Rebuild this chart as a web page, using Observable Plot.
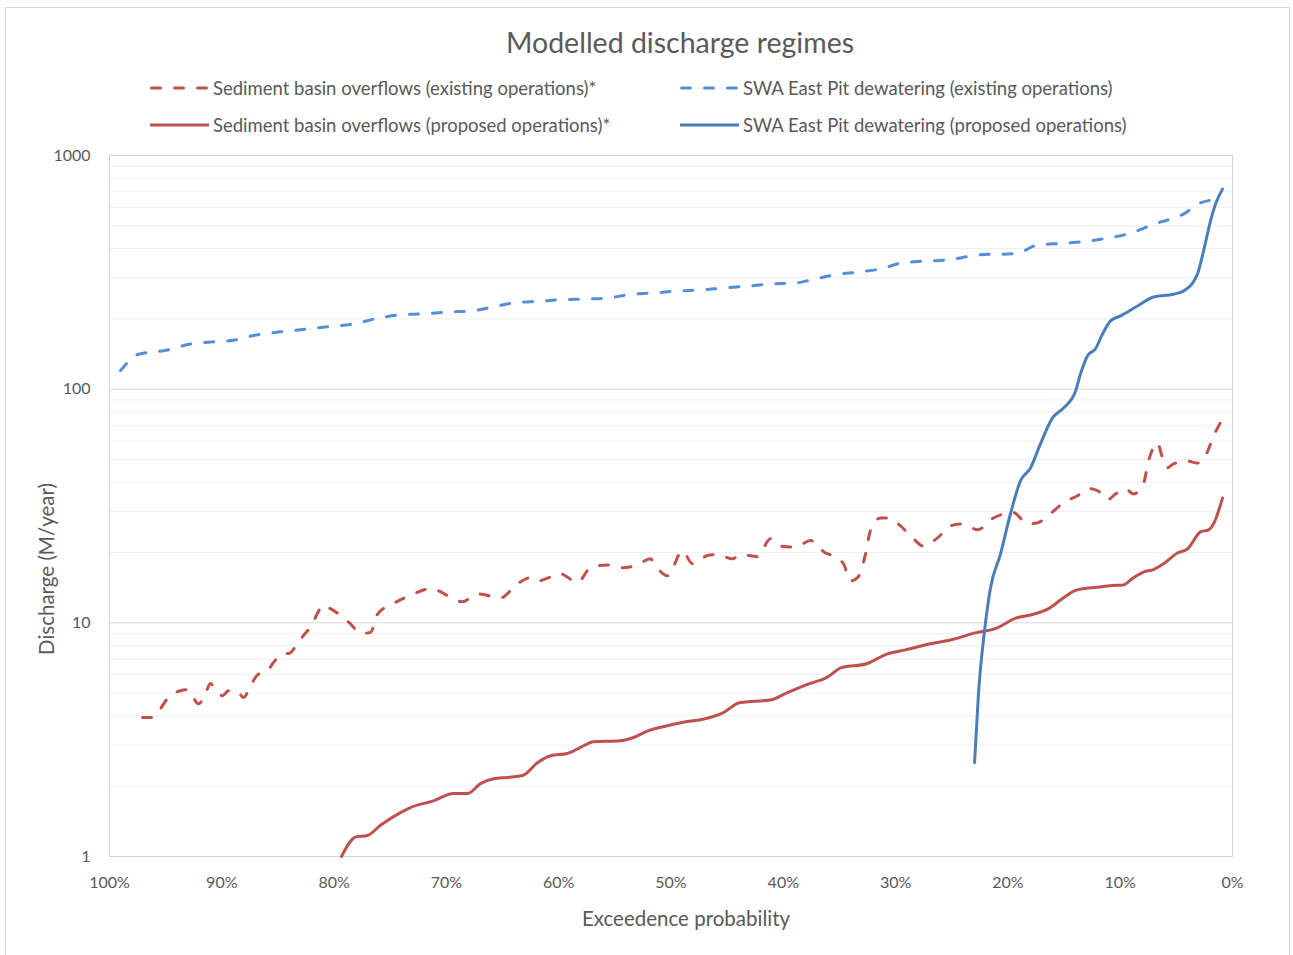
<!DOCTYPE html>
<html>
<head>
<meta charset="utf-8">
<script src="https://cdn.jsdelivr.net/npm/d3@7"></script>
<script src="https://cdn.jsdelivr.net/npm/@observablehq/plot@0.6"></script>
<style>
  html, body { margin: 0; padding: 0; background: #fff; }
  body { width: 1293px; height: 955px; position: relative; overflow: hidden; font-family: Lato, "Open Sans", sans-serif; color: #595959; }
  #frame { position: absolute; left: 5px; top: 7px; width: 1285px; height: 970px; border: 1px solid #d9d9d9; box-sizing: border-box; }
  #title { position: absolute; left: 680px; top: 42px; transform: translate(-50%, -50%); font-size: 28.5px; white-space: nowrap; }
  .leg { position: absolute; display: flex; align-items: center; font-size: 18.5px; white-space: nowrap; transform: translateY(-50%); }
  .leg svg { margin-right: 4px; }
  #chart { position: absolute; left: 0; top: 140px; }
  #ylab { position: absolute; left: 46px; top: 569px; transform: translate(-50%, -50%) rotate(-90deg); font-size: 20.5px; white-space: nowrap; }
  #xlab { position: absolute; left: 686px; top: 918px; transform: translate(-50%, -50%); font-size: 20.5px; white-space: nowrap; }
</style>
</head>
<body>
<div id="frame"></div>
<div id="title"></div>
<div id="legend"></div>
<div id="chart"></div>
<div id="ylab"></div>
<div id="xlab"></div>
<script>
// ---- Data ----
const titleText = "Modelled discharge regimes";
const xTitle = "Exceedence probability";
const yTitle = "Discharge (M/year)";

const seriesNames = [
  "Sediment basin overflows (existing operations)*",
  "SWA East Pit dewatering (existing operations)",
  "Sediment basin overflows (proposed operations)*",
  "SWA East Pit dewatering (proposed operations)"
];

const xTicks = [100, 90, 80, 70, 60, 50, 40, 30, 20, 10, 0];
const yTicks = [1, 10, 100, 1000];

// Sediment basin overflows (existing operations)*
const sedExPct = [97.06, 96.26, 95.46, 94.84, 93.68, 93.05, 92.07, 91.63, 91.00, 90.74, 89.94, 89.40, 88.60, 88.07, 87.44, 86.82, 85.93, 85.40, 84.51, 84.06, 83.26, 82.72, 81.92, 81.48, 80.94, 80.32, 79.25, 78.54, 77.65, 76.76, 76.13, 74.71, 72.93, 71.42, 69.37, 68.57, 67.23, 65.18, 63.67, 62.51, 61.89, 60.73, 59.84, 58.33, 57.17, 55.65, 54.50, 52.98, 51.83, 51.38, 50.31, 48.98, 48.09, 46.75, 45.86, 44.52, 43.81, 42.30, 41.14, 40.25, 38.91, 37.58, 36.24, 35.62, 34.64, 34.02, 33.39, 32.68, 32.24, 31.34, 30.63, 29.56, 28.41, 27.52, 26.27, 25.11, 24.22, 23.06, 22.71, 21.28, 19.50, 18.25, 17.36, 16.21, 15.05, 13.80, 12.82, 12.02, 11.13, 10.42, 9.53, 8.82, 7.93, 7.48, 6.68, 6.23, 5.79, 5.25, 4.01, 3.12, 2.40, 1.69, 1.07];
const sedExVal = [3.93, 3.93, 4.30, 4.74, 5.12, 5.17, 4.51, 4.74, 5.5, 5.33, 4.88, 5.12, 5.07, 4.79, 5.38, 5.99, 6.24, 6.76, 7.39, 7.39, 8.15, 8.83, 9.91, 11.0, 11.9, 11.5, 10.6, 9.91, 9.0, 9.1, 10.9, 12.1, 13.3, 14.0, 12.7, 12.3, 13.3, 12.8, 14.7, 15.6, 15.1, 15.7, 16.2, 14.9, 17.2, 17.7, 17.2, 17.7, 18.8, 17.6, 15.9, 20.3, 17.9, 19.4, 19.6, 18.8, 19.6, 19.2, 22.9, 21.3, 21.1, 22.5, 19.9, 19.4, 17.9, 15.1, 15.6, 19.7, 24.8, 28.1, 28.1, 26.0, 22.9, 21.3, 23.1, 26.0, 26.5, 25.3, 25.0, 28.1, 29.6, 26.5, 26.8, 29.3, 32.7, 35.0, 37.5, 36.8, 33.6, 35.6, 37.5, 35.6, 39.4, 49.2, 58.8, 50.8, 46.1, 47.9, 49.2, 48.3, 51.9, 63, 72];

// Sediment basin overflows (proposed operations)*
const sedPrPct = [79.34, 78.09, 77.03, 75.87, 74.09, 73.20, 71.15, 69.37, 68.12, 66.96, 65.81, 64.56, 63.22, 61.89, 60.73, 59.22, 58.06, 56.90, 54.50, 53.34, 52.00, 50.31, 48.53, 47.37, 45.33, 43.90, 41.05, 39.63, 37.67, 36.15, 34.82, 32.59, 30.72, 29.12, 26.89, 25.02, 22.80, 21.19, 19.23, 17.99, 16.38, 15.14, 13.89, 12.02, 10.24, 9.80, 8.82, 7.93, 7.03, 6.14, 4.90, 4.01, 2.85, 2.14, 1.69, 0.89];
const sedPrVal = [1.0, 1.21, 1.23, 1.36, 1.54, 1.62, 1.73, 1.86, 1.86, 2.05, 2.15, 2.18, 2.22, 2.52, 2.70, 2.76, 2.93, 3.10, 3.13, 3.23, 3.46, 3.63, 3.78, 3.85, 4.13, 4.55, 4.69, 5.03, 5.49, 5.83, 6.43, 6.68, 7.37, 7.66, 8.14, 8.47, 9.08, 9.42, 10.5, 10.8, 11.5, 12.7, 13.8, 14.2, 14.5, 14.5, 15.6, 16.5, 16.9, 17.9, 19.9, 20.7, 24.5, 25.0, 26.5, 34.2];

// SWA East Pit dewatering (existing operations)
const swaExPct = [99.02, 97.42, 94.84, 92.79, 91.01, 88.96, 86.82, 84.77, 82.37, 80.05, 78.27, 76.14, 74.09, 72.04, 69.90, 67.85, 65.81, 64.03, 61.62, 60.11, 57.79, 55.65, 53.61, 51.56, 49.42, 47.37, 45.33, 43.19, 41.14, 39.09, 37.58, 35.53, 33.39, 31.34, 29.56, 27.52, 25.38, 23.33, 21.73, 20.66, 19.14, 17.36, 15.05, 12.91, 11.13, 9.08, 7.03, 5.25, 4.36, 3.12, 1.96, 1.07];
const swaExVal = [120, 141, 147, 156, 159, 162, 171, 176, 181, 186, 190, 201, 208, 210, 214, 216, 225, 234, 238, 241, 243, 245, 255, 258, 263, 266, 271, 276, 282, 284, 293, 308, 317, 327, 346, 353, 357, 371, 378, 378, 382, 414, 421, 430, 443, 465, 508, 540, 561, 619, 644, 656];

// SWA East Pit dewatering (proposed operations)
const swaPrPct = [22.97, 22.62, 22.08, 21.55, 20.66, 19.77, 18.88, 17.99, 17.10, 16.03, 15.05, 13.98, 13.54, 12.91, 12.20, 11.58, 10.86, 9.97, 8.46, 7.03, 5.25, 4.36, 3.12, 2.58, 1.96, 1.51, 0.89];
const swaPrVal = [2.52, 4.98, 9.25, 14.1, 19.7, 29.3, 40.5, 46, 58.3, 75.3, 83, 98, 116, 139, 149, 172, 196, 206, 227, 248, 255, 263, 311, 390, 524, 620, 718];

const minorTicks = [2,3,4,5,6,7,8,9,20,30,40,50,60,70,80,90,200,300,400,500,600,700,800,900];
const majorGrid = [10, 100];

// ---- Styles ----
const RED = "#c0504d", BLUE_D = "#558ed5", BLUE = "#4a7ebb";
const DASH = "9,14";
const styles = [
  {name: seriesNames[0], pct: sedExPct, val: sedExVal, color: RED, dash: true},
  {name: seriesNames[1], pct: swaExPct, val: swaExVal, color: BLUE_D, dash: true},
  {name: seriesNames[2], pct: sedPrPct, val: sedPrVal, color: RED, dash: false},
  {name: seriesNames[3], pct: swaPrPct, val: swaPrVal, color: BLUE, dash: false}
];

document.getElementById("title").textContent = titleText;
document.getElementById("xlab").textContent = xTitle;
document.getElementById("ylab").textContent = yTitle;

// Legend
const legPos = [[150, 88], [680, 88], [150, 125], [680, 125]];
const legend = document.getElementById("legend");
styles.forEach((s, i) => {
  const d = document.createElement("div");
  d.className = "leg";
  d.style.left = legPos[i][0] + "px";
  d.style.top = legPos[i][1] + "px";
  const ns = "http://www.w3.org/2000/svg";
  const svg = document.createElementNS(ns, "svg");
  svg.setAttribute("width", 59); svg.setAttribute("height", 8);
  const ln = document.createElementNS(ns, "line");
  ln.setAttribute("x1", s.dash ? 1.5 : 0); ln.setAttribute("x2", s.dash ? 57.5 : 59);
  ln.setAttribute("y1", 4); ln.setAttribute("y2", 4);
  ln.setAttribute("stroke", s.color); ln.setAttribute("stroke-width", 3);
  if (s.dash) { ln.setAttribute("stroke-dasharray", "9,14"); ln.setAttribute("stroke-linecap", "round"); }
  svg.appendChild(ln);
  d.appendChild(svg);
  const t = document.createElement("span");
  t.textContent = s.name;
  d.appendChild(t);
  legend.appendChild(d);
});

const marks = [
  Plot.ruleY(minorTicks, {stroke: "#f0f0f0", strokeWidth: 1}),
  Plot.ruleY(majorGrid, {stroke: "#d9d9d9", strokeWidth: 1}),
  Plot.frame({stroke: "#d0d0d0", strokeWidth: 1}),
  Plot.axisY({ticks: yTicks, tickFormat: d => String(d), tickSize: 0, tickPadding: 19, label: null, fontSize: 16}),
  Plot.axisX({ticks: xTicks, tickFormat: d => d + "%", tickSize: 0, tickPadding: 20, label: null, fontSize: 16})
];
styles.forEach(s => {
  const data = s.pct.map((p, i) => ({p, v: s.val[i]}));
  marks.push(Plot.line(data, {
    x: "p", y: "v", curve: "monotone-x",
    stroke: s.color, strokeWidth: 3,
    strokeDasharray: s.dash ? DASH : null,
    strokeLinecap: "round", strokeLinejoin: "round"
  }));
});

const chart = Plot.plot({
  width: 1293,
  height: 815,
  marginTop: 15,
  marginLeft: 109,
  marginRight: 61,
  marginBottom: 99,
  style: {fontFamily: "Lato, 'Open Sans', sans-serif", color: "#595959", fontSize: "16px", background: "transparent"},
  x: {domain: [100, 0]},
  y: {type: "log", domain: [1, 1000]},
  marks
});
document.getElementById("chart").appendChild(chart);
</script>
</body>
</html>
